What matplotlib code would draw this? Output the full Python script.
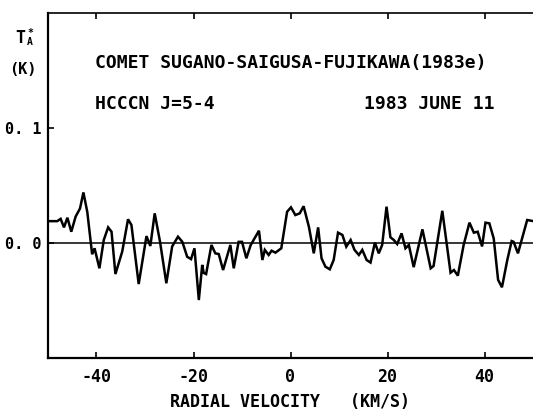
import matplotlib
matplotlib.use("Agg")
import matplotlib.pyplot as plt

# Spectrum vertices (velocity km/s, antenna temperature K)
velocity = [-49.9, -48.1, -47.4, -46.7, -46.0, -45.2, -44.3, -43.4, -42.7, -41.9,
            -40.9, -40.4, -39.4, -38.5, -37.6, -36.9, -36.1, -34.7, -33.5, -32.8,
            -31.3, -29.7, -28.9, -28.0, -26.9, -25.6, -24.4, -23.2, -22.3, -21.3,
            -20.5, -19.8, -18.9, -18.2, -17.9, -17.4, -16.3, -15.5, -14.8, -13.9,
            -12.4, -11.7, -10.7, -10.0, -9.1, -8.2, -6.5, -5.8, -5.3, -4.5,
            -3.9, -3.1, -1.9, -0.7, 0.1, 1.0, 1.9, 2.7, 3.8, 4.8,
            5.7, 6.4, 7.2, 8.1, 8.9, 9.8, 10.7, 11.5, 12.4, 13.2,
            14.1, 14.8, 15.7, 16.5, 17.4, 18.2, 18.9, 19.8, 20.6, 21.3,
            22.0, 22.9, 23.7, 24.4, 25.4, 27.2, 28.9, 29.5, 31.3, 33.0,
            33.7, 34.5, 35.7, 36.9, 37.8, 38.6, 39.5, 40.2, 41.0, 41.9,
            42.8, 43.6, 44.7, 45.6, 46.0, 46.9, 48.8, 50.1]
temperature = [0.019, 0.019, 0.021, 0.0136, 0.022, 0.0098, 0.023, 0.030, 0.044, 0.027,
               -0.0098, -0.0046, -0.022, 0.0026, 0.0136, 0.0098, -0.027, -0.0075, 0.0206, 0.0157,
               -0.0357, 0.006, -0.0026, 0.0258, 0.001, -0.035, -0.003, 0.0055, 0.001, -0.012,
               -0.014, -0.0046, -0.0496, -0.019, -0.026, -0.027, -0.0017, -0.009, -0.0096, -0.0235,
               -0.0017, -0.022, 0.001, 0.001, -0.0133, -0.0017, 0.0107, -0.0148, -0.006, -0.0104,
               -0.0067, -0.0084, -0.0046, 0.0272, 0.031, 0.0243, 0.0258, 0.032, 0.014, -0.009,
               0.0136, -0.0133, -0.0206, -0.0229, -0.0148, 0.009, 0.007, -0.0032, 0.0026, -0.006,
               -0.0104, -0.006, -0.0148, -0.017, 0.0003, -0.009, -0.0017, 0.0316, 0.005, 0.0026,
               -0.0009, 0.0084, -0.0046, -0.0017, -0.021, 0.0119, -0.022, -0.020, 0.028, -0.0258,
               -0.0235, -0.0284, -0.0017, 0.0177, 0.009, 0.0098, -0.003, 0.0177, 0.0171, 0.004,
               -0.032, -0.0385, -0.0148, 0.0017, 0.001, -0.009, 0.020, 0.019]

x_ticks = [-40, -20, 0, 20, 40]
x_tick_labels = ["-40", "-20", "0", "20", "40"]
y_ticks = [0.0, 0.1]
y_tick_labels = ["0. 0", "0. 1"]

title_line = "COMET SUGANO-SAIGUSA-FUJIKAWA(1983e)"
species = "HCCCN J=5-4"
date = "1983 JUNE 11"
xlabel = "RADIAL VELOCITY   (KM/S)"

W, H = 533, 412
fig = plt.figure(figsize=(W / 100, H / 100), dpi=100)
L, R, T, B = 48, 533, 13, 358
ax = fig.add_axes([L / W, 1 - B / H, (R - L) / W, (B - T) / H])

FONT = dict(family="DejaVu Sans Mono", weight="bold")

ax.plot(velocity, temperature, color="black", lw=1.8, solid_joinstyle="miter")
ax.axhline(0.0, color="black", lw=1.1)

ax.set_xlim(-50, 50)
ax.set_ylim(-0.1, 0.2)

ax.spines["right"].set_visible(False)
ax.spines["left"].set_linewidth(1.6)
ax.spines["bottom"].set_linewidth(1.6)
ax.spines["top"].set_linewidth(1.2)

ax.set_xticks(x_ticks)
ax.set_xticklabels(x_tick_labels, fontsize=12, **FONT)
ax.set_yticks(y_ticks)
ax.set_yticklabels(y_tick_labels, fontsize=11, **FONT)
ax.tick_params(axis="x", direction="in", length=4, width=1.2, top=True, pad=7)
ax.tick_params(axis="y", direction="in", length=4, width=1.2, pad=5)

ax.set_xlabel(xlabel, fontsize=12, labelpad=5, **FONT)

def px(x, y):
    return x / W, 1 - y / H

fig.text(*px(95, 63), title_line, fontsize=13, va="center", ha="left", **FONT)
fig.text(*px(95, 104), species, fontsize=13, va="center", ha="left", **FONT)
fig.text(*px(495, 104), date, fontsize=13, va="center", ha="right", **FONT)

fig.text(*px(20, 38), "T", fontsize=12, va="center", ha="center", **FONT)
fig.text(*px(30, 33), "*", fontsize=7, va="center", ha="center", **FONT)
fig.text(*px(30, 42), "A", fontsize=7, va="center", ha="center", **FONT)
fig.text(*px(23, 70), "(K)", fontsize=11, va="center", ha="center", **FONT)

fig.savefig("out.png", dpi=100)
